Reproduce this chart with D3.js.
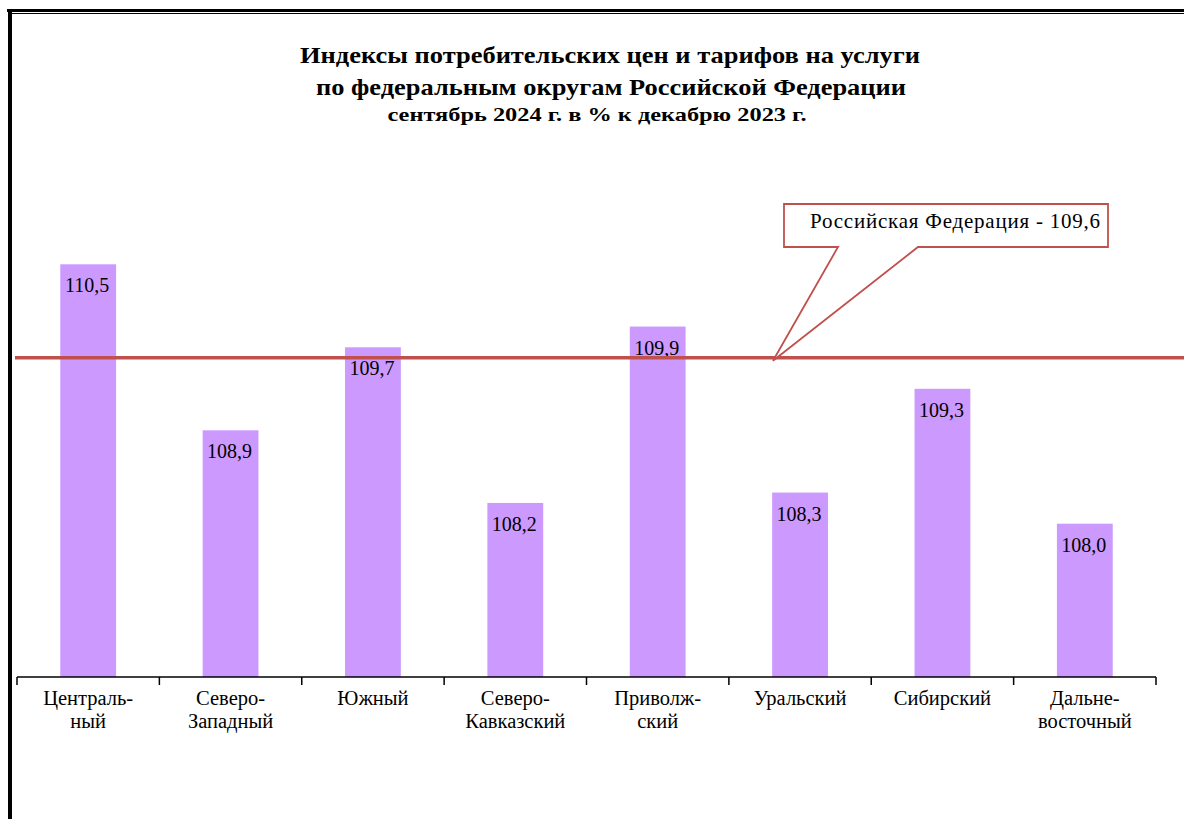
<!DOCTYPE html>
<html><head><meta charset="utf-8">
<script src="https://cdn.jsdelivr.net/npm/d3@7"></script>
<style>body{margin:0;background:#fff}svg{display:block}</style>
</head><body>
<svg id="c" width="1184" height="819"></svg>
<script>
const categories = [["Централь-","ный"],["Северо-","Западный"],["Южный"],["Северо-","Кавказский"],["Приволж-","ский"],["Уральский"],["Сибирский"],["Дальне-","восточный"]];
const values = [110.5,108.9,109.7,108.2,109.9,108.3,109.3,108.0];
const valueLabels = ["110,5","108,9","109,7","108,2","109,9","108,3","109,3","108,0"];
const russiaValue = 109.6;
const russiaLabel = "Российская Федерация - 109,6";
const titleLines = ["Индексы  потребительских  цен и тарифов  на услуги","по федеральным  округам  Российской  Федерации","сентябрь 2024 г.  в %  к  декабрю 2023 г."];

const svg = d3.select("#c");
const serif = "'Liberation Serif','Times New Roman',serif";

// frame
const frame = svg.append("g").attr("shape-rendering","crispEdges").attr("fill","#000");
frame.append("rect").attr("x",7).attr("y",8.5).attr("width",1177).attr("height",3);
frame.append("rect").attr("x",10).attr("y",12.5).attr("width",1174).attr("height",1.5);
frame.append("rect").attr("x",8).attr("y",12).attr("width",4).attr("height",807);

// title
const tl = [{y:63,size:24,len:620,x:610},{y:95,size:24,len:590,x:611},{y:121,size:19,len:419,x:597}];
tl.forEach((t,i)=>{
  svg.append("text").attr("x",t.x).attr("y",t.y).attr("text-anchor","middle")
    .attr("font-family",serif).attr("font-weight","bold").attr("font-size",t.size)
    .attr("textLength",t.len).attr("lengthAdjust","spacingAndGlyphs")
    .text(titleLines[i]);
});

const baseY = 677;
const x = d3.scaleBand().domain(d3.range(values.length)).range([17,1156]).padding(0);
const y = d3.scaleLinear().domain([108,110.5]).range([523.7,264.3]);
const bw = x.bandwidth()*0.392;

svg.append("g").selectAll("rect").data(values).join("rect")
  .attr("x",(d,i)=>x(i)+x.bandwidth()/2-bw/2).attr("width",bw)
  .attr("y",d=>y(d)).attr("height",d=>baseY-y(d)).attr("fill","#cc99ff");

svg.append("g").selectAll("text").data(values).join("text")
  .attr("x",(d,i)=>x(i)+x.bandwidth()/2-1).attr("y",d=>y(d)+28)
  .attr("text-anchor","middle").attr("font-family",serif).attr("font-size",20).attr("fill","#000")
  .text((d,i)=>valueLabels[i]);

// axis
const ax = svg.append("g").attr("transform",`translate(0,${baseY})`);
ax.append("line").attr("x1",17).attr("x2",1156).attr("y1",0).attr("y2",0).attr("stroke","#000").attr("stroke-width",1.5);
const ticks = d3.range(values.length+1).map(i=> i<values.length ? x(i) : x(values.length-1)+x.bandwidth());
ax.selectAll(".tk").data(ticks).join("line").attr("class","tk")
  .attr("x1",d=>d).attr("x2",d=>d).attr("y1",0).attr("y2",8).attr("stroke","#000").attr("stroke-width",1.5);
categories.forEach((lines,i)=>{
  const t = svg.append("text").attr("x",x(i)+x.bandwidth()/2).attr("y",705)
    .attr("text-anchor","middle").attr("font-family",serif).attr("font-size",20.5).attr("fill","#000");
  lines.forEach((l,j)=>t.append("tspan").attr("x",x(i)+x.bandwidth()/2).attr("dy",j?23:0).text(l));
});

// reference line
const ry = y(russiaValue);
svg.append("line").attr("x1",15).attr("x2",1184).attr("y1",ry).attr("y2",ry).attr("stroke","#c0504d").attr("stroke-width",3.5);

// callout
const px = 773, py = ry+3;
const bx0=784,bx1=1108,by0=204,by1=247;
svg.append("path").attr("d",`M${bx0},${by0}H${bx1}V${by1}H918L${px},${py}L838,${by1}H${bx0}Z`)
  .attr("fill","#fff").attr("stroke","#c0504d").attr("stroke-width",1.8);
svg.append("text").attr("x",(bx0+bx1)/2+9).attr("y",228).attr("text-anchor","middle")
  .attr("font-family",serif).attr("font-size",21).attr("fill","#000")
  .attr("textLength",290).attr("lengthAdjust","spacing").text(russiaLabel);
</script>
</body></html>
